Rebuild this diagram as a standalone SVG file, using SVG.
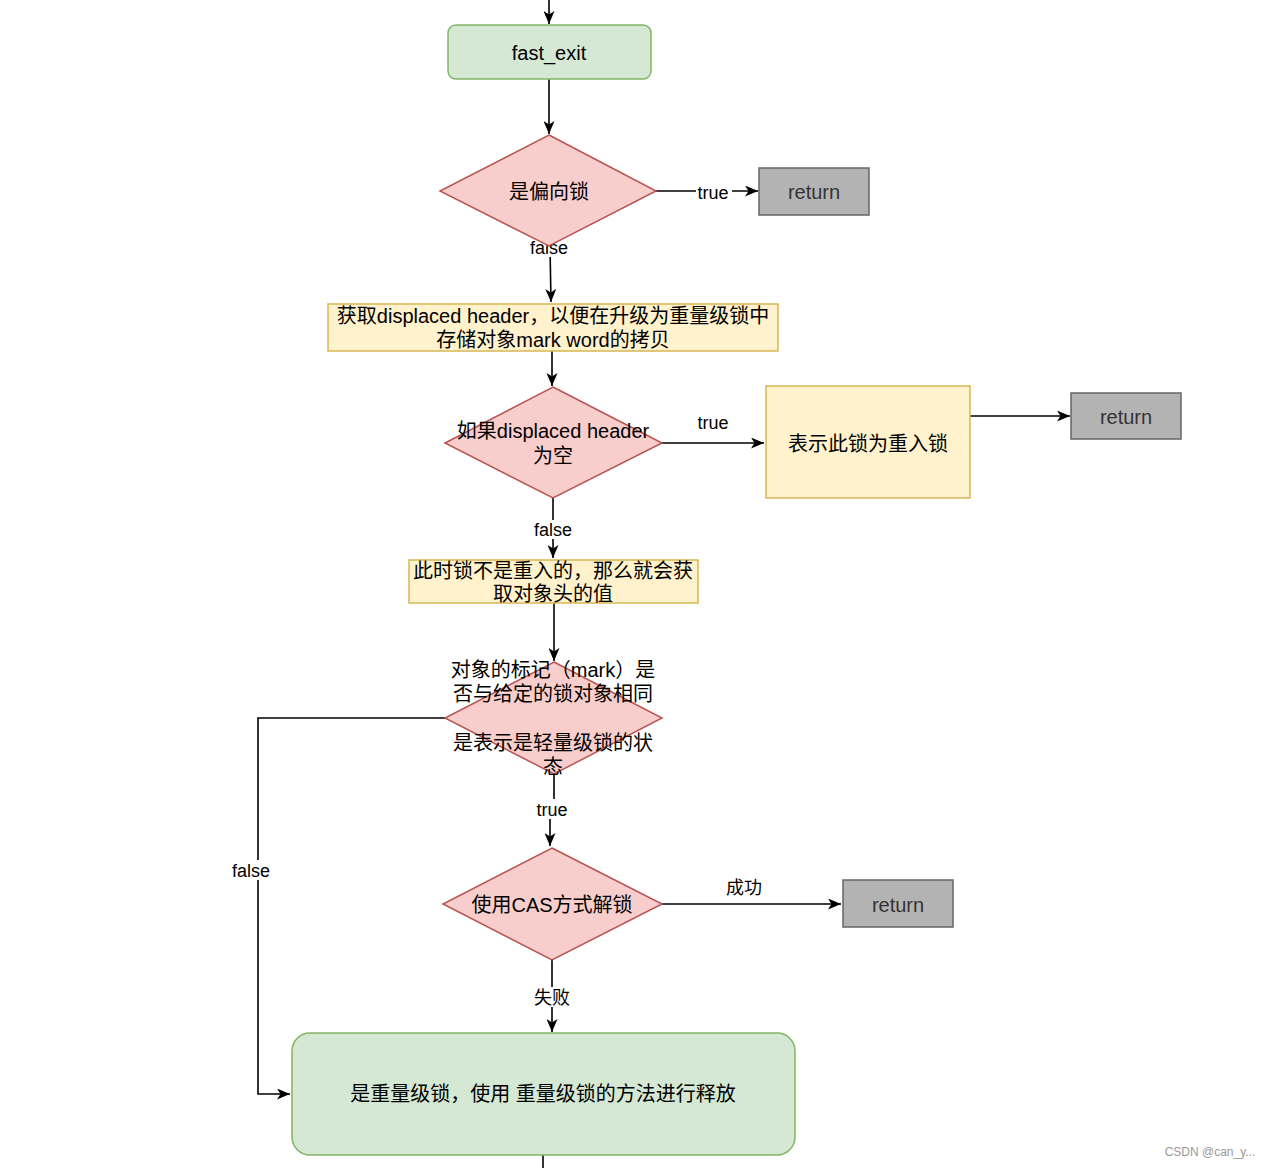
<svg xmlns="http://www.w3.org/2000/svg" width="1274" height="1168" viewBox="0 0 1274 1168">
  <style>
    text { font-family: "Liberation Sans", "Noto Sans CJK SC", sans-serif; fill: #000; text-anchor: middle; dominant-baseline: central; }
    .t20 { font-size: 20px; }
    .lbl { font-size: 18px; }
    .green { fill: #d5e8d4; stroke: #82b366; stroke-width: 1.5; }
    .red { fill: #f8cecc; stroke: #b85450; stroke-width: 1.5; }
    .yellow { fill: #fff2cc; stroke: #d6b656; stroke-width: 1.5; }
    .gray { fill: #b3b3b3; stroke: #666666; stroke-width: 1.5; }
    .ret { fill: #333333; font-size: 20px; }
    .edge { fill: none; stroke: #000; stroke-width: 1.6; marker-end: url(#arr); }
    .edgen { fill: none; stroke: #000; stroke-width: 1.6; }
    .lblbg { fill: #ffffff; }
    .wm { fill: #999999; font-size: 12px; }
  </style>
  <defs>
    <marker id="arr" viewBox="0 0 13 11" refX="13" refY="5.5" markerWidth="13" markerHeight="11" markerUnits="userSpaceOnUse" orient="auto">
      <path d="M0,0 L13,5.5 L0,11 L3.5,5.5 Z" fill="#000"/>
    </marker>
  </defs>
  <rect width="1274" height="1168" fill="#ffffff"/>

  <g id="connectors">
    <path class="edge" d="M549,0 L549,24"/>
    <path class="edge" d="M549,79 L549,134"/>
    <path class="edge" d="M656,191 L758,191"/>
    <path class="edge" d="M550,246 L551,302"/>
    <path class="edge" d="M552,351 L552,386"/>
    <path class="edge" d="M662,443 L764,443"/>
    <path class="edge" d="M970,416 L1070,416"/>
    <path class="edge" d="M553,498 L553,558"/>
    <path class="edge" d="M554,603 L554,661"/>
    <path class="edge" d="M554,774 L554,809 L550,809 L550,846"/>
    <path class="edge" d="M445,718 L258,718 L258,1094 L290,1094"/>
    <path class="edge" d="M662,904 L841,904"/>
    <path class="edge" d="M552,960 L552,1032"/>
    <path class="edgen" d="M543,1155 L543,1168"/>
    <!-- labels -->
    <rect class="lblbg" x="696" y="182" width="36" height="20"/>
    <text class="lbl" x="713" y="193">true</text>
    <rect class="lblbg" x="529" y="238" width="41" height="19"/>
    <text class="lbl" x="549" y="248">false</text>
    <text class="lbl" x="713" y="423">true</text>
    <rect class="lblbg" x="532" y="520" width="42" height="19"/>
    <text class="lbl" x="553" y="530">false</text>
    <rect class="lblbg" x="534" y="799" width="36" height="20"/>
    <text class="lbl" x="552" y="810">true</text>
    <rect class="lblbg" x="230" y="860" width="42" height="20"/>
    <text class="lbl" x="251" y="871">false</text>
    <text class="lbl" x="744" y="888">成功</text>
    <rect class="lblbg" x="532" y="987" width="40" height="20"/>
    <text class="lbl" x="552" y="998">失败</text>
  </g>

  <g id="fast_exit">
    <rect class="green" x="448" y="25" width="203" height="54" rx="8"/>
    <text class="t20" x="549" y="53">fast_exit</text>
  </g>
  <g id="is_biased">
    <polygon class="red" points="549,135 656,191 549,246 440,191"/>
    <text class="t20" x="549" y="192">是偏向锁</text>
  </g>
  <g id="return1">
    <rect class="gray" x="759" y="168" width="110" height="47"/>
    <text class="ret" x="814" y="192">return</text>
  </g>
  <g id="get_displaced_header">
    <rect class="yellow" x="328" y="304" width="450" height="47"/>
    <text class="t20" x="553" y="316">获取displaced header，以便在升级为重量级锁中</text>
    <text class="t20" x="553" y="340">存储对象mark word的拷贝</text>
  </g>
  <g id="header_empty">
    <polygon class="red" points="553,387 662,443 553,498 445,443"/>
    <text class="t20" x="553" y="431">如果displaced header</text>
    <text class="t20" x="553" y="456">为空</text>
  </g>
  <g id="reentrant">
    <rect class="yellow" x="766" y="386" width="204" height="112"/>
    <text class="t20" x="868" y="444">表示此锁为重入锁</text>
  </g>
  <g id="return2">
    <rect class="gray" x="1071" y="393" width="110" height="46"/>
    <text class="ret" x="1126" y="417">return</text>
  </g>
  <g id="not_reentrant">
    <rect class="yellow" x="409" y="560" width="289" height="43"/>
    <text class="t20" x="553" y="571">此时锁不是重入的，那么就会获</text>
    <text class="t20" x="553" y="594">取对象头的值</text>
  </g>
  <g id="mark_check">
    <polygon class="red" points="554,662 662,718 554,774 445,718"/>
    <text class="t20" x="553" y="670">对象的标记（mark）是</text>
    <text class="t20" x="553" y="694">否与给定的锁对象相同</text>
    <text class="t20" x="553" y="743">是表示是轻量级锁的状</text>
    <text class="t20" x="553" y="767">态</text>
  </g>
  <g id="cas_unlock">
    <polygon class="red" points="552,848 662,904 552,960 443,904"/>
    <text class="t20" x="552" y="905">使用CAS方式解锁</text>
  </g>
  <g id="return3">
    <rect class="gray" x="843" y="880" width="110" height="47"/>
    <text class="ret" x="898" y="905">return</text>
  </g>
  <g id="heavyweight">
    <rect class="green" x="292" y="1033" width="503" height="122" rx="18"/>
    <text class="t20" x="543" y="1094">是重量级锁，使用 重量级锁的方法进行释放</text>
  </g>
  <text class="wm" x="1210" y="1152">CSDN @can_y...</text>
</svg>
